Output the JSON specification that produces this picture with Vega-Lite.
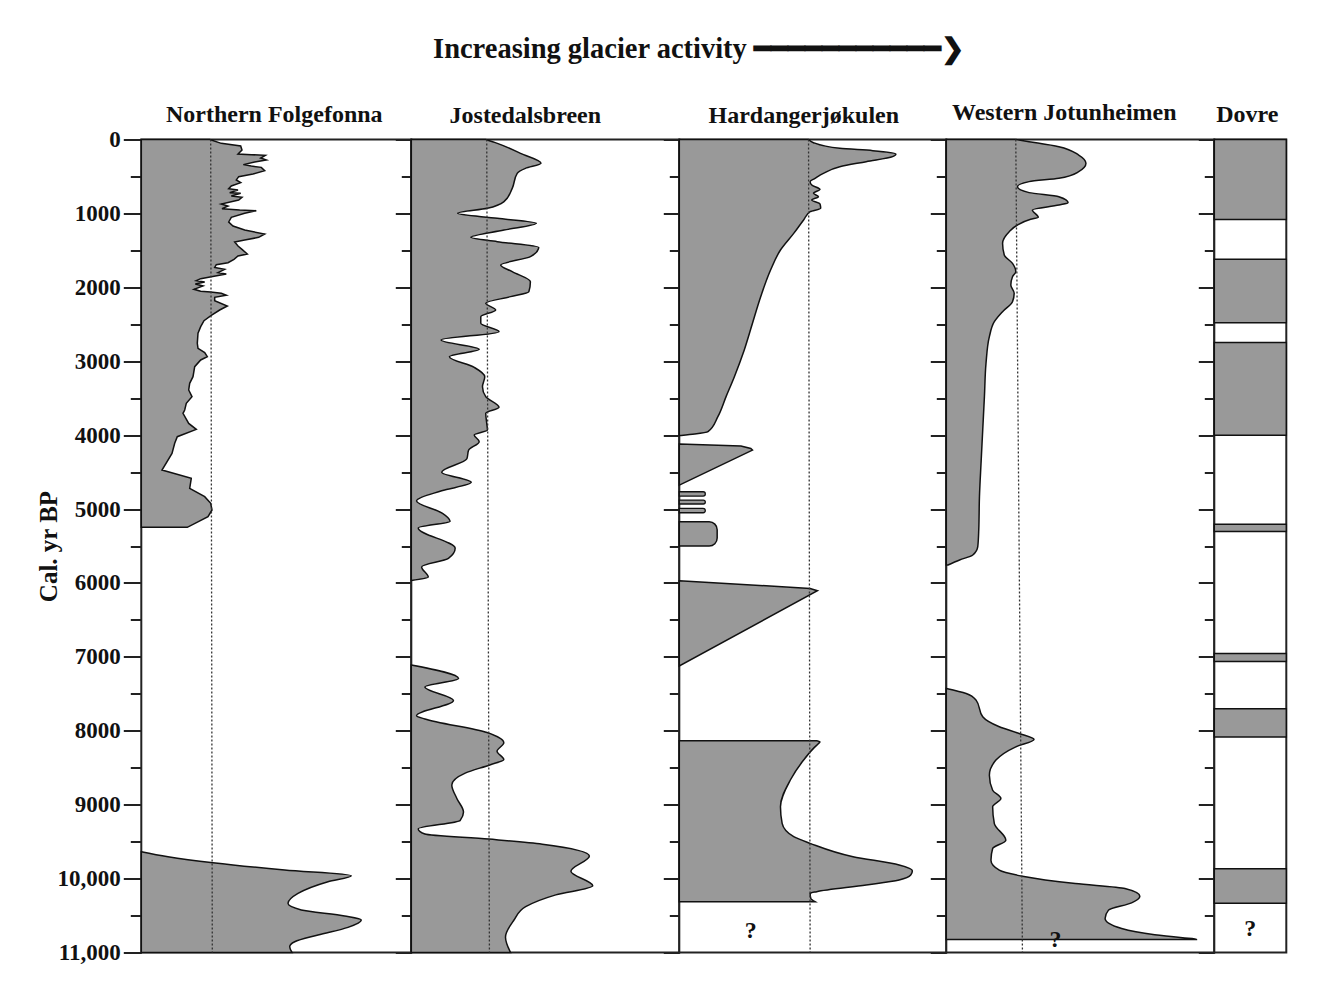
{
  "$schema": "https://vega.github.io/schema/vega-lite/v6.json",
  "background": "white",
  "padding": {"left": 34.3, "top": 34.5, "right": 30, "bottom": 20},
  "spacing": 0,
  "bounds": "flush",
  "title": {"text": "Increasing glacier activity ━━━━━━━━━━━❯", "font": "Liberation Serif", "fontSize": 28.5, "fontWeight": "bold", "color": "#111", "anchor": "start", "dx": 398, "offset": 13.5, "baseline": "alphabetic"},
  "config": {
    "view": {"stroke": "#222", "strokeWidth": 2, "fill": "white"},
    "font": "Liberation Serif"
  },
  "datasets": {
    "folgeA": [
      {"t":0,"v":68.4},{"t":52,"v":80},{"t":88,"v":99.4},{"t":142,"v":100.7},{"t":196,"v":96.7},{"t":205,"v":110},{"t":214,"v":124},{"t":250,"v":119.4},{"t":277,"v":125},{"t":304,"v":113.4},{"t":340,"v":102},{"t":359,"v":110},{"t":377,"v":120},{"t":422,"v":123.4},{"t":467,"v":111.7},{"t":503,"v":97.4},{"t":548,"v":95},{"t":584,"v":99.4},{"t":629,"v":90},{"t":665,"v":87.4},{"t":683,"v":96.7},{"t":719,"v":88.4},{"t":728,"v":99.4},{"t":764,"v":90},{"t":782,"v":100.7},{"t":819,"v":97.4},{"t":873,"v":80},{"t":900,"v":86.7},{"t":936,"v":80.7},{"t":954,"v":98.4},{"t":963,"v":115},{"t":999,"v":103.4},{"t":1053,"v":90},{"t":1116,"v":87.4},{"t":1170,"v":91.7},{"t":1225,"v":103.4},{"t":1279,"v":123.4},{"t":1324,"v":117.4},{"t":1360,"v":103.4},{"t":1387,"v":93.4},{"t":1441,"v":96.7},{"t":1486,"v":100.7},{"t":1549,"v":106},{"t":1576,"v":96.7},{"t":1621,"v":92.7},{"t":1667,"v":86.7},{"t":1694,"v":75},{"t":1730,"v":73.4},{"t":1757,"v":83.4},{"t":1802,"v":76.7},{"t":1820,"v":85},{"t":1856,"v":70},{"t":1883,"v":59.4},{"t":1910,"v":55},{"t":1928,"v":63.4},{"t":1955,"v":54},{"t":1982,"v":61.7},{"t":2027,"v":52.7},{"t":2054,"v":59.4},{"t":2063,"v":69.4},{"t":2081,"v":80},{"t":2108,"v":85},{"t":2136,"v":73.4},{"t":2181,"v":73.4},{"t":2253,"v":86},{"t":2307,"v":78.4},{"t":2379,"v":70},{"t":2451,"v":62.7},{"t":2532,"v":59.4},{"t":2622,"v":56.7},{"t":2758,"v":56},{"t":2826,"v":56.7},{"t":2884,"v":63.4},{"t":2938,"v":66},{"t":2983,"v":59.4},{"t":3074,"v":53.4},{"t":3209,"v":51.7},{"t":3299,"v":48.4},{"t":3389,"v":47.4},{"t":3479,"v":50.7},{"t":3570,"v":45},{"t":3660,"v":43.4},{"t":3705,"v":41.7},{"t":3841,"v":47.4},{"t":3922,"v":55},{"t":4021,"v":36},{"t":4111,"v":33.4},{"t":4247,"v":30.7},{"t":4472,"v":20.7},{"t":4585,"v":50},{"t":4720,"v":48.4},{"t":4833,"v":63.4},{"t":4923,"v":69.4},{"t":5013,"v":70.7},{"t":5104,"v":66.7},{"t":5248,"v":46}
    ],
    "folgeB": [
      {"t":9636,"v":0},{"t":9704,"v":26.7},{"t":9785,"v":71.7},{"t":9884,"v":143.4},{"t":9961,"v":210},{"t":10042,"v":186.7},{"t":10200,"v":156.7},{"t":10335,"v":146.7},{"t":10425,"v":160},{"t":10506,"v":203.4},{"t":10560,"v":220},{"t":10660,"v":206.7},{"t":10763,"v":176.7},{"t":10854,"v":153.4},{"t":10921,"v":148.4},{"t":11000,"v":150.7}
    ],
    "josteA": [
      {"t":0,"v":75},{"t":52,"v":86.7},{"t":187,"v":110},{"t":322,"v":130.7},{"t":390,"v":115},{"t":458,"v":106.7},{"t":661,"v":101.7},{"t":841,"v":93.4},{"t":931,"v":76.7},{"t":999,"v":46.7},{"t":1067,"v":86.7},{"t":1134,"v":126},{"t":1225,"v":93.4},{"t":1324,"v":60},{"t":1382,"v":86.7},{"t":1459,"v":128.4},{"t":1585,"v":120},{"t":1698,"v":90},{"t":1788,"v":101.7},{"t":1924,"v":120},{"t":2059,"v":118.4},{"t":2126,"v":100},{"t":2217,"v":75},{"t":2307,"v":85},{"t":2397,"v":70},{"t":2487,"v":70},{"t":2600,"v":88.4},{"t":2713,"v":30},{"t":2839,"v":68.4},{"t":2938,"v":38.4},{"t":3083,"v":63.4},{"t":3209,"v":74},{"t":3344,"v":71.7},{"t":3479,"v":75},{"t":3624,"v":88.4},{"t":3705,"v":75},{"t":3840,"v":76},{"t":3930,"v":76.7},{"t":3998,"v":63.4},{"t":4088,"v":68.4},{"t":4204,"v":57.7},{"t":4319,"v":56},{"t":4502,"v":30.6},{"t":4639,"v":60.4},{"t":4753,"v":30.6},{"t":4891,"v":5.3},{"t":5051,"v":30.6},{"t":5165,"v":39.1},{"t":5256,"v":7},{"t":5531,"v":44.2},{"t":5668,"v":37.4},{"t":5783,"v":10.4},{"t":5920,"v":17.1},{"t":5966,"v":0}
    ],
    "josteB": [
      {"t":7109,"v":0},{"t":7292,"v":47.6},{"t":7407,"v":13.7},{"t":7590,"v":42.5},{"t":7796,"v":5.3},{"t":7841,"v":13.7},{"t":8024,"v":76.3},{"t":8162,"v":93.2},{"t":8276,"v":86.4},{"t":8390,"v":93.2},{"t":8459,"v":79.7},{"t":8573,"v":54.3},{"t":8733,"v":40.8},{"t":8916,"v":45.9},{"t":9100,"v":52.6},{"t":9214,"v":49.2},{"t":9328,"v":7},{"t":9397,"v":13.7},{"t":9466,"v":78},{"t":9534,"v":132},{"t":9694,"v":179.4},{"t":9900,"v":160.8},{"t":10097,"v":182.8},{"t":10220,"v":145.6},{"t":10380,"v":115.2},{"t":10564,"v":103.3},{"t":10792,"v":94.9},{"t":11000,"v":100}
    ],
    "hardA": [
      {"t":0,"v":130.7},{"t":43,"v":135.7},{"t":120,"v":162.3},{"t":151,"v":195.7},{"t":196,"v":219},{"t":232,"v":215.7},{"t":300,"v":189},{"t":368,"v":162.3},{"t":458,"v":145.7},{"t":526,"v":137.3},{"t":570,"v":132.3},{"t":616,"v":134},{"t":674,"v":142.3},{"t":728,"v":135.7},{"t":773,"v":140.7},{"t":819,"v":134},{"t":873,"v":142.3},{"t":931,"v":143},{"t":976,"v":132.3},{"t":1089,"v":125.7},{"t":1270,"v":115.7},{"t":1495,"v":102.3},{"t":1766,"v":92.3},{"t":2127,"v":82.3},{"t":2487,"v":74},{"t":2848,"v":65.7},{"t":3209,"v":55.7},{"t":3479,"v":47.3},{"t":3750,"v":39},{"t":3953,"v":29},{"t":3985,"v":15.7},{"t":4005,"v":2}
    ],
    "hardTri": [
      {"seg":"a","t":4121,"v":0},{"seg":"a","t":4148,"v":62.3},{"seg":"a","t":4180,"v":72.3},{"seg":"a","t":4202,"v":74},{"seg":"a","t":4676,"v":0},
      {"seg":"b","t":5970,"v":0},{"seg":"b","t":6074,"v":132.3},{"seg":"b","t":6105,"v":139.7},{"seg":"b","t":7124,"v":0}
    ],
    "hardC": [
      {"t":8134,"v":139},{"t":8150,"v":142.3},{"t":8170,"v":141},{"t":8238,"v":135.7},{"t":8396,"v":125.7},{"t":8666,"v":112.3},{"t":9027,"v":102.3},{"t":9253,"v":104},{"t":9433,"v":115.7},{"t":9523,"v":132.3},{"t":9704,"v":175.7},{"t":9816,"v":222.3},{"t":9893,"v":235.7},{"t":9952,"v":234},{"t":10019,"v":222.3},{"t":10087,"v":189},{"t":10177,"v":139},{"t":10200,"v":132.3},{"t":10268,"v":133},{"t":10313,"v":137.3}
    ],
    "hardStripes": [
      {"t":4766,"t2":4824,"v":26.3},{"t":4878,"t2":4932,"v":26.3},{"t":4991,"t2":5050,"v":26.3}
    ],
    "hardPill": [
      {"t":5172,"t2":5501,"v":38.3}
    ],
    "jotA": [
      {"t":0,"v":70},{"t":29,"v":83.4},{"t":97,"v":113.4},{"t":210,"v":133.4},{"t":322,"v":140.7},{"t":435,"v":133.4},{"t":525,"v":113.4},{"t":570,"v":83.4},{"t":638,"v":71.7},{"t":719,"v":83.4},{"t":774,"v":113.4},{"t":855,"v":122.7},{"t":886,"v":113.4},{"t":954,"v":86.7},{"t":1053,"v":92.7},{"t":1080,"v":85},{"t":1157,"v":71.7},{"t":1247,"v":63.4},{"t":1405,"v":56.7},{"t":1563,"v":58.4},{"t":1676,"v":66.7},{"t":1788,"v":70},{"t":1856,"v":66.7},{"t":1969,"v":65},{"t":2081,"v":68.4},{"t":2194,"v":66.7},{"t":2329,"v":56.7},{"t":2465,"v":48.4},{"t":2668,"v":43.4},{"t":3029,"v":40},{"t":3479,"v":38.4},{"t":3930,"v":36.7},{"t":4381,"v":35},{"t":4832,"v":33.4},{"t":5283,"v":32.7},{"t":5509,"v":31.7},{"t":5622,"v":26.7},{"t":5689,"v":13.4},{"t":5757,"v":1.7}
    ],
    "jotB": [
      {"t":7428,"v":0},{"t":7495,"v":20},{"t":7585,"v":30},{"t":7811,"v":36.7},{"t":7946,"v":53.4},{"t":8037,"v":73.4},{"t":8118,"v":88.4},{"t":8217,"v":70},{"t":8397,"v":50},{"t":8601,"v":43.4},{"t":8804,"v":46.7},{"t":8916,"v":55},{"t":9029,"v":46.7},{"t":9255,"v":48.4},{"t":9480,"v":60},{"t":9593,"v":46.7},{"t":9751,"v":45},{"t":9886,"v":53.4},{"t":9967,"v":76.7},{"t":10067,"v":130},{"t":10134,"v":180},{"t":10238,"v":195},{"t":10328,"v":186.7},{"t":10427,"v":163.4},{"t":10540,"v":160},{"t":10676,"v":176.7},{"t":10760,"v":210},{"t":10800,"v":238},{"t":10818,"v":252},{"t":10824,"v":252}
    ],
    "dovre": [
      {"t":0,"t2":1081},{"t":1619,"t2":2479},{"t":2748,"t2":4000},{"t":5205,"t2":5305},{"t":6956,"t2":7064},{"t":7701,"t2":8085},{"t":9867,"t2":10335}
    ]
  },
  "hconcat": [
    {
      "width": 270, "height": 813,
      "title": {"text": "Northern Folgefonna", "font": "Liberation Serif", "fontSize": 24, "fontWeight": "bold", "color": "#111", "anchor": "middle", "dx": -2, "dy": 35, "offset": 18, "baseline": "alphabetic"},
      "encoding": {
        "y": {"field": "t", "type": "quantitative", "scale": {"domain": [0, 11000], "reverse": true, "nice": false, "zero": false},
          "axis": {"values": [0,500,1000,1500,2000,2500,3000,3500,4000,4500,5000,5500,6000,6500,7000,7500,8000,8500,9000,9500,10000,10500,11000],
            "tickSize": {"condition": {"test": "datum.value % 1000 === 0", "value": 18}, "value": 11},
            "tickWidth": 2, "tickColor": "#222", "domain": false, "grid": false,
            "labelExpr": "datum.value % 1000 === 0 ? (datum.value >= 10000 ? format(datum.value, ',') : format(datum.value, 'd')) : ''",
            "labelFont": "Liberation Serif", "labelFontWeight": "bold", "labelFontSize": 23, "labelColor": "#111", "labelPadding": 3, "labelOverlap": false, "labelFlush": false,
            "title": "Cal. yr BP", "titleFont": "Liberation Serif", "titleFontSize": 25, "titleFontWeight": "bold", "titleColor": "#111", "titlePadding": -4}},
        "x": {"field": "v", "type": "quantitative", "scale": {"domain": [0, 270], "nice": false}, "axis": null, "stack": null}
      },
      "layer": [
        {"data": {"name": "folgeA"}, "mark": {"type": "area", "orient": "horizontal", "interpolate": "linear", "fill": "#999999", "stroke": "#111", "strokeWidth": 1.5}},
        {"data": {"name": "folgeB"}, "mark": {"type": "area", "orient": "horizontal", "interpolate": "monotone", "fill": "#999999", "stroke": "#111", "strokeWidth": 1.5}},
        {"data": {"values": [{"t": 0, "t2": 11000, "v": 69.4, "v2": 71}]}, "mark": {"type": "rule", "strokeDash": [2, 2], "strokeWidth": 1.3, "color": "#333"},
          "encoding": {"y2": {"field": "t2"}, "x2": {"field": "v2"}}}
      ]
    },
    {
      "width": 268, "height": 813,
      "title": {"text": "Jostedalsbreen", "font": "Liberation Serif", "fontSize": 24, "fontWeight": "bold", "color": "#111", "anchor": "middle", "dx": -20, "dy": 28, "offset": 18, "baseline": "alphabetic"},
      "encoding": {
        "y": {"field": "t", "type": "quantitative", "scale": {"domain": [0, 11000], "reverse": true, "nice": false, "zero": false},
          "axis": {"values": [0,500,1000,1500,2000,2500,3000,3500,4000,4500,5000,5500,6000,6500,7000,7500,8000,8500,9000,9500,10000,10500,11000],
            "tickSize": {"condition": {"test": "datum.value % 1000 === 0", "value": 16}, "value": 10},
            "tickWidth": 2, "tickColor": "#222", "domain": false, "grid": false, "labels": false, "title": null}},
        "x": {"field": "v", "type": "quantitative", "scale": {"domain": [0, 270], "nice": false}, "axis": null, "stack": null}
      },
      "layer": [
        {"data": {"name": "josteA"}, "mark": {"type": "area", "orient": "horizontal", "interpolate": "monotone", "fill": "#999999", "stroke": "#111", "strokeWidth": 1.5}},
        {"data": {"name": "josteB"}, "mark": {"type": "area", "orient": "horizontal", "interpolate": "monotone", "fill": "#999999", "stroke": "#111", "strokeWidth": 1.5}},
        {"data": {"values": [{"t": 0, "t2": 11000, "v": 76, "v2": 78.7}]}, "mark": {"type": "rule", "strokeDash": [2, 2], "strokeWidth": 1.3, "color": "#333"},
          "encoding": {"y2": {"field": "t2"}, "x2": {"field": "v2"}}}
      ]
    },
    {
      "width": 267, "height": 813,
      "title": {"text": "Hardangerjøkulen", "font": "Liberation Serif", "fontSize": 24, "fontWeight": "bold", "color": "#111", "anchor": "middle", "dx": -9, "dy": 28, "offset": 18, "baseline": "alphabetic"},
      "encoding": {
        "y": {"field": "t", "type": "quantitative", "scale": {"domain": [0, 11000], "reverse": true, "nice": false, "zero": false},
          "axis": {"values": [0,500,1000,1500,2000,2500,3000,3500,4000,4500,5000,5500,6000,6500,7000,7500,8000,8500,9000,9500,10000,10500,11000],
            "tickSize": {"condition": {"test": "datum.value % 1000 === 0", "value": 16}, "value": 10},
            "tickWidth": 2, "tickColor": "#222", "domain": false, "grid": false, "labels": false, "title": null}},
        "x": {"field": "v", "type": "quantitative", "scale": {"domain": [0, 270], "nice": false}, "axis": null, "stack": null}
      },
      "layer": [
        {"data": {"name": "hardA"}, "mark": {"type": "area", "orient": "horizontal", "interpolate": "monotone", "fill": "#999999", "stroke": "#111", "strokeWidth": 1.5}},
        {"data": {"name": "hardTri"}, "mark": {"type": "area", "orient": "horizontal", "interpolate": "linear", "fill": "#999999", "stroke": "#111", "strokeWidth": 1.5},
          "encoding": {"detail": {"field": "seg"}}},
        {"data": {"name": "hardC"}, "mark": {"type": "area", "orient": "horizontal", "interpolate": "monotone", "fill": "#999999", "stroke": "#111", "strokeWidth": 1.5}},
        {"data": {"name": "hardStripes"}, "mark": {"type": "rect", "fill": "#999999", "stroke": "#111", "strokeWidth": 1.3, "cornerRadiusTopRight": 3, "cornerRadiusBottomRight": 3},
          "encoding": {"y2": {"field": "t2"}, "x": {"datum": 0}, "x2": {"field": "v"}}},
        {"data": {"name": "hardPill"}, "mark": {"type": "rect", "fill": "#999999", "stroke": "#111", "strokeWidth": 1.5, "cornerRadiusTopRight": 8, "cornerRadiusBottomRight": 8},
          "encoding": {"y2": {"field": "t2"}, "x": {"datum": 0}, "x2": {"field": "v"}}},
        {"data": {"values": [{"t": 0, "t2": 11000, "v": 130.7, "v2": 132.3}]}, "mark": {"type": "rule", "strokeDash": [2, 2], "strokeWidth": 1.3, "color": "#333"},
          "encoding": {"y2": {"field": "t2"}, "x2": {"field": "v2"}}},
        {"data": {"values": [{"t": 10707, "v": 72.3, "label": "?"}]}, "mark": {"type": "text", "font": "Liberation Serif", "fontWeight": "bold", "fontSize": 24, "color": "#111", "baseline": "middle", "align": "center"},
          "encoding": {"text": {"field": "label"}}}
      ]
    },
    {
      "width": 268, "height": 813,
      "title": {"text": "Western Jotunheimen", "font": "Liberation Serif", "fontSize": 24, "fontWeight": "bold", "color": "#111", "anchor": "middle", "dx": -16, "dy": 25, "offset": 18, "baseline": "alphabetic"},
      "encoding": {
        "y": {"field": "t", "type": "quantitative", "scale": {"domain": [0, 11000], "reverse": true, "nice": false, "zero": false},
          "axis": {"values": [0,500,1000,1500,2000,2500,3000,3500,4000,4500,5000,5500,6000,6500,7000,7500,8000,8500,9000,9500,10000,10500,11000],
            "tickSize": {"condition": {"test": "datum.value % 1000 === 0", "value": 16}, "value": 10},
            "tickWidth": 2, "tickColor": "#222", "domain": false, "grid": false, "labels": false, "title": null}},
        "x": {"field": "v", "type": "quantitative", "scale": {"domain": [0, 270], "nice": false}, "axis": null, "stack": null}
      },
      "layer": [
        {"data": {"name": "jotA"}, "mark": {"type": "area", "orient": "horizontal", "interpolate": "monotone", "fill": "#999999", "stroke": "#111", "strokeWidth": 1.5}},
        {"data": {"name": "jotB"}, "mark": {"type": "area", "orient": "horizontal", "interpolate": "monotone", "fill": "#999999", "stroke": "#111", "strokeWidth": 1.5}},
        {"data": {"values": [{"t": 0, "t2": 11000, "v": 70, "v2": 76.7}]}, "mark": {"type": "rule", "strokeDash": [2, 2], "strokeWidth": 1.3, "color": "#333"},
          "encoding": {"y2": {"field": "t2"}, "x2": {"field": "v2"}}},
        {"data": {"values": [{"t": 10830, "v": 110, "label": "?"}]}, "mark": {"type": "text", "font": "Liberation Serif", "fontWeight": "bold", "fontSize": 24, "color": "#111", "baseline": "middle", "align": "center"},
          "encoding": {"text": {"field": "label"}}}
      ]
    },
    {
      "width": 72, "height": 813,
      "title": {"text": "Dovre", "font": "Liberation Serif", "fontSize": 24, "fontWeight": "bold", "color": "#111", "anchor": "middle", "dx": -3, "dy": 25, "offset": 18, "baseline": "alphabetic"},
      "encoding": {
        "y": {"field": "t", "type": "quantitative", "scale": {"domain": [0, 11000], "reverse": true, "nice": false, "zero": false},
          "axis": {"values": [0,500,1000,1500,2000,2500,3000,3500,4000,4500,5000,5500,6000,6500,7000,7500,8000,8500,9000,9500,10000,10500,11000],
            "tickSize": {"condition": {"test": "datum.value % 1000 === 0", "value": 16}, "value": 10},
            "tickWidth": 2, "tickColor": "#222", "domain": false, "grid": false, "labels": false, "title": null}}
      },
      "layer": [
        {"data": {"name": "dovre"}, "mark": {"type": "rect", "fill": "#999999", "stroke": "#111", "strokeWidth": 1.5},
          "encoding": {"y2": {"field": "t2"}, "x": {"datum": 0, "type": "quantitative", "scale": {"domain": [0, 1], "nice": false}, "axis": null}, "x2": {"datum": 1}}},
        {"data": {"values": [{"t": 10681, "label": "?"}]}, "mark": {"type": "text", "font": "Liberation Serif", "fontWeight": "bold", "fontSize": 24, "color": "#111", "baseline": "middle", "align": "center"},
          "encoding": {"text": {"field": "label"}, "x": {"datum": 0.5, "type": "quantitative"}}}
      ]
    }
  ]
}
